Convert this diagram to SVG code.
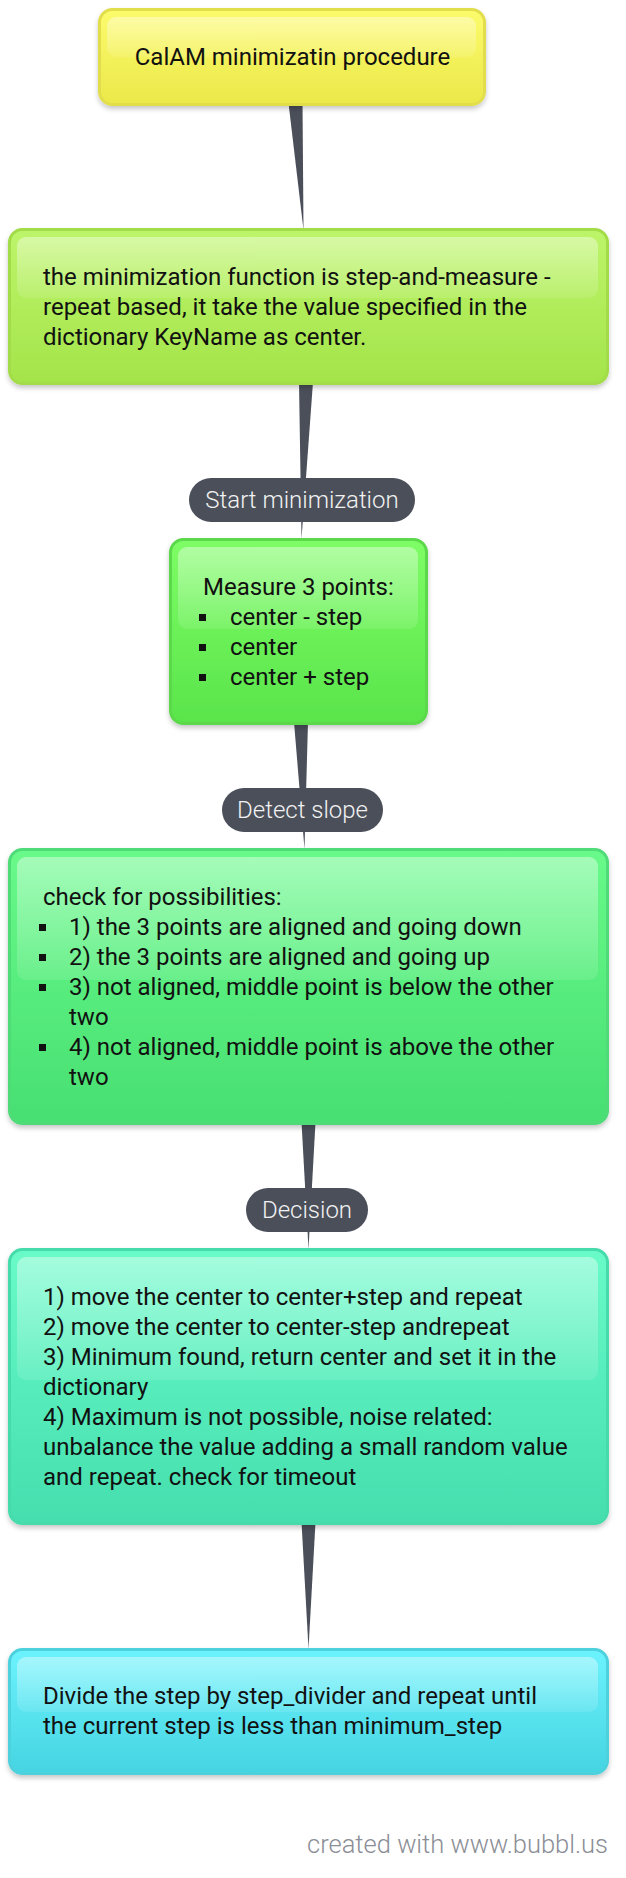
<svg xmlns="http://www.w3.org/2000/svg" width="626" height="1878" viewBox="0 0 626 1878">
<style>
.t{font-family:Roboto,"Liberation Sans",sans-serif;font-size:24px;fill:#111;}
.pl{font-family:Roboto,"Liberation Sans",sans-serif;font-size:24px;font-weight:300;fill:#f2f2f2;text-anchor:middle;}
.pill{fill:#4b4f5a;}
.wedge{fill:#4b4f5a;}
.hl{fill:url(#gH);}
.bul{fill:#111;}
.foot{font-family:Roboto,"Liberation Sans",sans-serif;font-size:25.5px;font-weight:300;fill:#8b8e96;text-anchor:end;}
</style>
<defs>
<filter id="sh" x="-5%" y="-10%" width="110%" height="130%">
<feDropShadow dx="0" dy="3" stdDeviation="2.5" flood-color="#000" flood-opacity="0.22"/>
</filter>
<linearGradient id="gH" x1="0" y1="0" x2="0" y2="1"><stop offset="0" stop-color="#fff" stop-opacity="0.4"/><stop offset="1" stop-color="#fff" stop-opacity="0.1"/></linearGradient>
<linearGradient id="gY" x1="0" y1="0" x2="0" y2="1"><stop offset="0" stop-color="#fcfb6c"/><stop offset="1" stop-color="#ebe84a"/></linearGradient>
<linearGradient id="gG1" x1="0" y1="0" x2="0" y2="1"><stop offset="0" stop-color="#bdf56a"/><stop offset="1" stop-color="#a4e44a"/></linearGradient>
<linearGradient id="gG2" x1="0" y1="0" x2="0" y2="1"><stop offset="0" stop-color="#7efd66"/><stop offset="1" stop-color="#5ae44b"/></linearGradient>
<linearGradient id="gG3" x1="0" y1="0" x2="0" y2="1"><stop offset="0" stop-color="#68fa8a"/><stop offset="1" stop-color="#48df72"/></linearGradient>
<linearGradient id="gT" x1="0" y1="0" x2="0" y2="1"><stop offset="0" stop-color="#68fbc8"/><stop offset="1" stop-color="#46deae"/></linearGradient>
<linearGradient id="gC" x1="0" y1="0" x2="0" y2="1"><stop offset="0" stop-color="#6cf3fd"/><stop offset="1" stop-color="#46d4e2"/></linearGradient>
</defs>

<g id="connectors">
<polygon class="wedge" points="288.5,103 302.5,103 303.5,230"/>
<polygon class="wedge" points="299,382 313,382 301.5,539"/>
<polygon class="wedge" points="294,722 308,722 304.5,849"/>
<polygon class="wedge" points="301.5,1122 315.5,1122 308.5,1249"/>
<polygon class="wedge" points="301.5,1522 315.5,1522 308.5,1649"/>
<g id="label-start">
<rect class="pill" x="189" y="478" width="226" height="44" rx="22"/>
<text class="pl" x="302" y="508">Start minimization</text>
</g>
<g id="label-detect">
<rect class="pill" x="222" y="788" width="161" height="44" rx="22"/>
<text class="pl" x="302.5" y="818">Detect slope</text>
</g>
<g id="label-decision">
<rect class="pill" x="246" y="1188" width="122" height="44" rx="22"/>
<text class="pl" x="307" y="1218">Decision</text>
</g>
</g>

<g id="node-title">
<rect x="99.5" y="9.5" width="385" height="95" rx="13" fill="url(#gY)" stroke="#e2de4c" stroke-width="3" filter="url(#sh)"/>
<rect class="hl" x="107" y="17" width="369" height="40" rx="9"/>
<text class="t" x="292.5" y="65" text-anchor="middle">CalAM minimizatin procedure</text>
</g>

<g id="node-intro">
<rect x="9.5" y="229.5" width="598" height="154" rx="13" fill="url(#gG1)" stroke="#a3dc4a" stroke-width="3" filter="url(#sh)"/>
<rect class="hl" x="17" y="237" width="581" height="61" rx="9"/>
<text class="t" x="43" y="285">the minimization function is step-and-measure -</text>
<text class="t" x="43" y="315">repeat based, it take the value specified in the</text>
<text class="t" x="43" y="345">dictionary KeyName as center.</text>
</g>

<g id="node-measure">
<rect x="170.5" y="539.5" width="256" height="184" rx="13" fill="url(#gG2)" stroke="#5bd84b" stroke-width="3" filter="url(#sh)"/>
<rect class="hl" x="178" y="547" width="240" height="82" rx="9"/>
<text class="t" x="203" y="595">Measure 3 points:</text>
<rect class="bul" x="199" y="614" width="7" height="7"/>
<rect class="bul" x="199" y="644" width="7" height="7"/>
<rect class="bul" x="199" y="674" width="7" height="7"/>
<text class="t" x="230" y="625">center - step</text>
<text class="t" x="230" y="655">center</text>
<text class="t" x="230" y="685">center + step</text>
</g>

<g id="node-check">
<rect x="9.5" y="849.5" width="598" height="274" rx="13" fill="url(#gG3)" stroke="#50db78" stroke-width="3" filter="url(#sh)"/>
<rect class="hl" x="17" y="857" width="581" height="123" rx="9"/>
<text class="t" x="43" y="905">check for possibilities:</text>
<rect class="bul" x="39" y="924" width="7" height="7"/>
<rect class="bul" x="39" y="954" width="7" height="7"/>
<rect class="bul" x="39" y="984" width="7" height="7"/>
<rect class="bul" x="39" y="1044" width="7" height="7"/>
<text class="t" x="69" y="935">1) the 3 points are aligned and going down</text>
<text class="t" x="69" y="965">2) the 3 points are aligned and going up</text>
<text class="t" x="69" y="995">3) not aligned, middle point is below the other</text>
<text class="t" x="69" y="1025">two</text>
<text class="t" x="69" y="1055">4) not aligned, middle point is above the other</text>
<text class="t" x="69" y="1085">two</text>
</g>

<g id="node-decision">
<rect x="9.5" y="1249.5" width="598" height="274" rx="13" fill="url(#gT)" stroke="#45dbab" stroke-width="3" filter="url(#sh)"/>
<rect class="hl" x="17" y="1257" width="581" height="123" rx="9"/>
<text class="t" x="43" y="1305">1) move the center to center+step and repeat</text>
<text class="t" x="43" y="1335">2) move the center to center-step andrepeat</text>
<text class="t" x="43" y="1365">3) Minimum found, return center and set it in the</text>
<text class="t" x="43" y="1395">dictionary</text>
<text class="t" x="43" y="1425">4) Maximum is not possible, noise related:</text>
<text class="t" x="43" y="1455">unbalance the value adding a small random value</text>
<text class="t" x="43" y="1485">and repeat. check for timeout</text>
</g>

<g id="node-divide">
<rect x="9.5" y="1649.5" width="598" height="124" rx="13" fill="url(#gC)" stroke="#4dd1dd" stroke-width="3" filter="url(#sh)"/>
<rect class="hl" x="17" y="1657" width="581" height="55" rx="9"/>
<text class="t" x="43" y="1704">Divide the step by step_divider and repeat until</text>
<text class="t" x="43" y="1734">the current step is less than minimum_step</text>
</g>

<text class="foot" x="608" y="1853">created with www.bubbl.us</text>
</svg>
